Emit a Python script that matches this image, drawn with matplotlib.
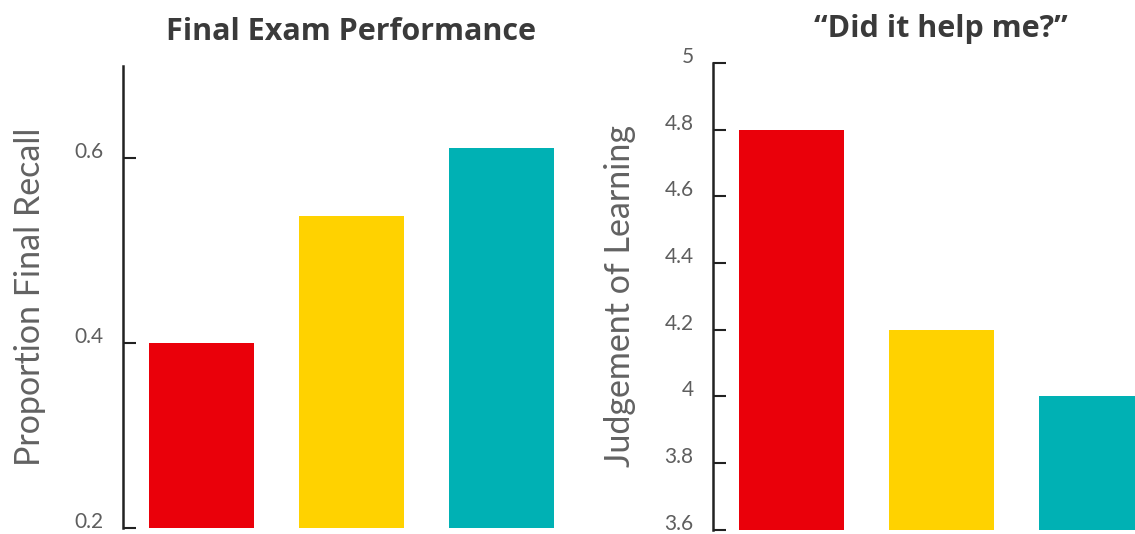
import matplotlib
matplotlib.use("Agg")
import matplotlib.pyplot as plt
import numpy as np

conditions = ["Condition A", "Condition B", "Condition C"]
bar_colors = ["#EA000A", "#FFD200", "#00B1B4"]

recall = [0.40, 0.538, 0.611]
recall_ticks = [0.2, 0.4, 0.6]
recall_tick_labels = ["0.2", "0.4", "0.6"]

jol = [4.8, 4.2, 4.0]
jol_ticks = [3.6, 3.8, 4.0, 4.2, 4.4, 4.6, 4.8, 5.0]
jol_tick_labels = ["3.6", "3.8", "4", "4.2", "4.4", "4.6", "4.8", "5"]

plt.rcParams['font.family'] = ['Lato', 'DejaVu Sans']

fig = plt.figure(figsize=(11.35, 5.34), dpi=100)
ax1 = fig.add_axes([0.1084, 0.0112, 0.4018, 0.8652])
ax2 = fig.add_axes([0.6282, 0.0084, 0.4018, 0.8736])


def style_axis(ax, vals, ylim, ticks, labels, ylabel, title):
    x = np.arange(len(conditions))
    ax.bar(x, [v - ylim[0] for v in vals], bottom=ylim[0], width=0.7,
           color=bar_colors)
    ax.set_xlim(-0.52, len(vals) - 1 + 0.52)
    ax.set_ylim(*ylim)
    ax.set_xticks([])
    ax.set_yticks(ticks)
    ax.set_yticklabels(labels, fontsize=15, color="#5e5e5e")
    for lab in ax.get_yticklabels():
        lab.set_va("baseline")
    ax.tick_params(axis="y", direction="in", length=9, width=1.5,
                   color="#222222", pad=14)
    for s in ["top", "right", "bottom"]:
        ax.spines[s].set_visible(False)
    ax.spines["left"].set_linewidth(1.8)
    ax.spines["left"].set_color("#222222")
    ax.set_ylabel(ylabel, fontsize=24.5, color="#626262")
    ax.yaxis.set_label_coords(-0.168, 0.5)
    ax.set_title(title, fontsize=22, fontweight="bold", color="#3a3a3a",
                 pad=19, family=["Open Sans", "DejaVu Sans"])


style_axis(ax1, recall, (0.2, 0.7), recall_ticks, recall_tick_labels,
           "Proportion Final Recall", "Final Exam Performance")
style_axis(ax2, jol, (3.6, 5.0), jol_ticks, jol_tick_labels,
           "Judgement of Learning", "\u201cDid it help me?\u201d")

fig.savefig("out.png", dpi=100)
